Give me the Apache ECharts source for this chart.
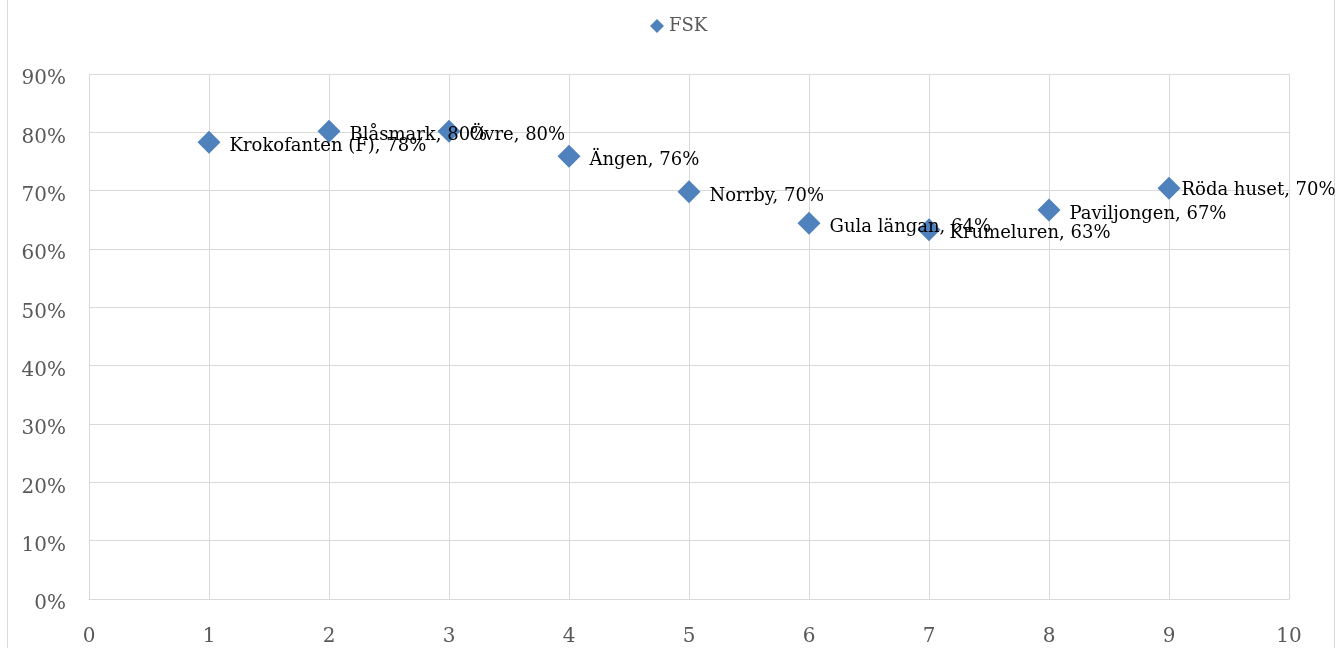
<!DOCTYPE html>
<html>
<head>
<meta charset="utf-8">
<script src="https://cdn.jsdelivr.net/npm/echarts@6/dist/echarts.min.js"></script>
<style>
	html, body { margin: 0; padding: 0; background: #fff; }
	#chart { width: 1337px; height: 648px; }
</style>
</head>
<body>
<div id="chart"></div>
<script>
	// data
	var names = ["Krokofanten (F)", "Blåsmark", "Övre", "Ängen", "Norrby", "Gula längan", "Krumeluren", "Paviljongen", "Röda huset"];
	var xs = [1, 2, 3, 4, 5, 6, 7, 8, 9];
	var shares = [0.783, 0.802, 0.802, 0.759, 0.698, 0.644, 0.633, 0.667, 0.704];
	var seriesName = "FSK";

	var fontFamily = "'DejaVu Serif', serif";
	var points = xs.map(function (x, i) {
		var item = { name: names[i], value: [x, shares[i]] };
		// last label is pushed back inside the chart, like the original
		if (i === xs.length - 1) {
			item.label = { distance: 1, offset: [0, 2] };
		}
		return item;
	});

	var chart = echarts.init(document.getElementById("chart"));
	chart.setOption({
		animation: false,
		textStyle: { fontFamily: fontFamily },
		graphic: [{
			type: "rect",
			shape: { x: 7.5, y: -2, width: 1327, height: 660 },
			style: { fill: "none", stroke: "#d9d9d9", lineWidth: 1 },
			silent: true
		}],
		legend: {
			top: 12,
			left: 645,
			itemWidth: 14,
			itemHeight: 14,
			itemGap: 3,
			textStyle: { color: "#595959", fontSize: 18, fontFamily: fontFamily },
			data: [{ name: seriesName, icon: "diamond" }]
		},
		grid: { left: 89, right: 48, top: 74, bottom: 49 },
		xAxis: {
			type: "value",
			min: 0,
			max: 10,
			interval: 1,
			axisLine: { show: true, lineStyle: { color: "#d9d9d9" } },
			axisTick: { show: false },
			splitLine: { show: true, lineStyle: { color: "#d9d9d9", width: 1 } },
			axisLabel: { color: "#595959", fontSize: 20, margin: 28, fontFamily: fontFamily }
		},
		yAxis: {
			type: "value",
			min: 0,
			max: 0.9,
			interval: 0.1,
			axisLine: { show: true, lineStyle: { color: "#d9d9d9" } },
			axisTick: { show: false },
			splitLine: { show: true, lineStyle: { color: "#d9d9d9", width: 1 } },
			axisLabel: {
				color: "#595959",
				fontSize: 20,
				margin: 23,
				verticalAlign: "top",
				lineHeight: 10,
				fontFamily: fontFamily,
				formatter: function (v) { return Math.round(v * 100) + "%"; }
			}
		},
		series: [{
			name: seriesName,
			type: "scatter",
			symbol: "diamond",
			symbolSize: [23, 23],
			itemStyle: { color: "#4f81bd", opacity: 1 },
			label: {
				show: true,
				position: "right",
				distance: 9,
				offset: [0, 4],
				color: "#000",
				fontSize: 18,
				fontFamily: fontFamily,
				formatter: function (p) {
					return p.name + ", " + Math.round(p.value[1] * 100) + "%";
				}
			},
			data: points
		}]
	});
</script>
</body>
</html>
